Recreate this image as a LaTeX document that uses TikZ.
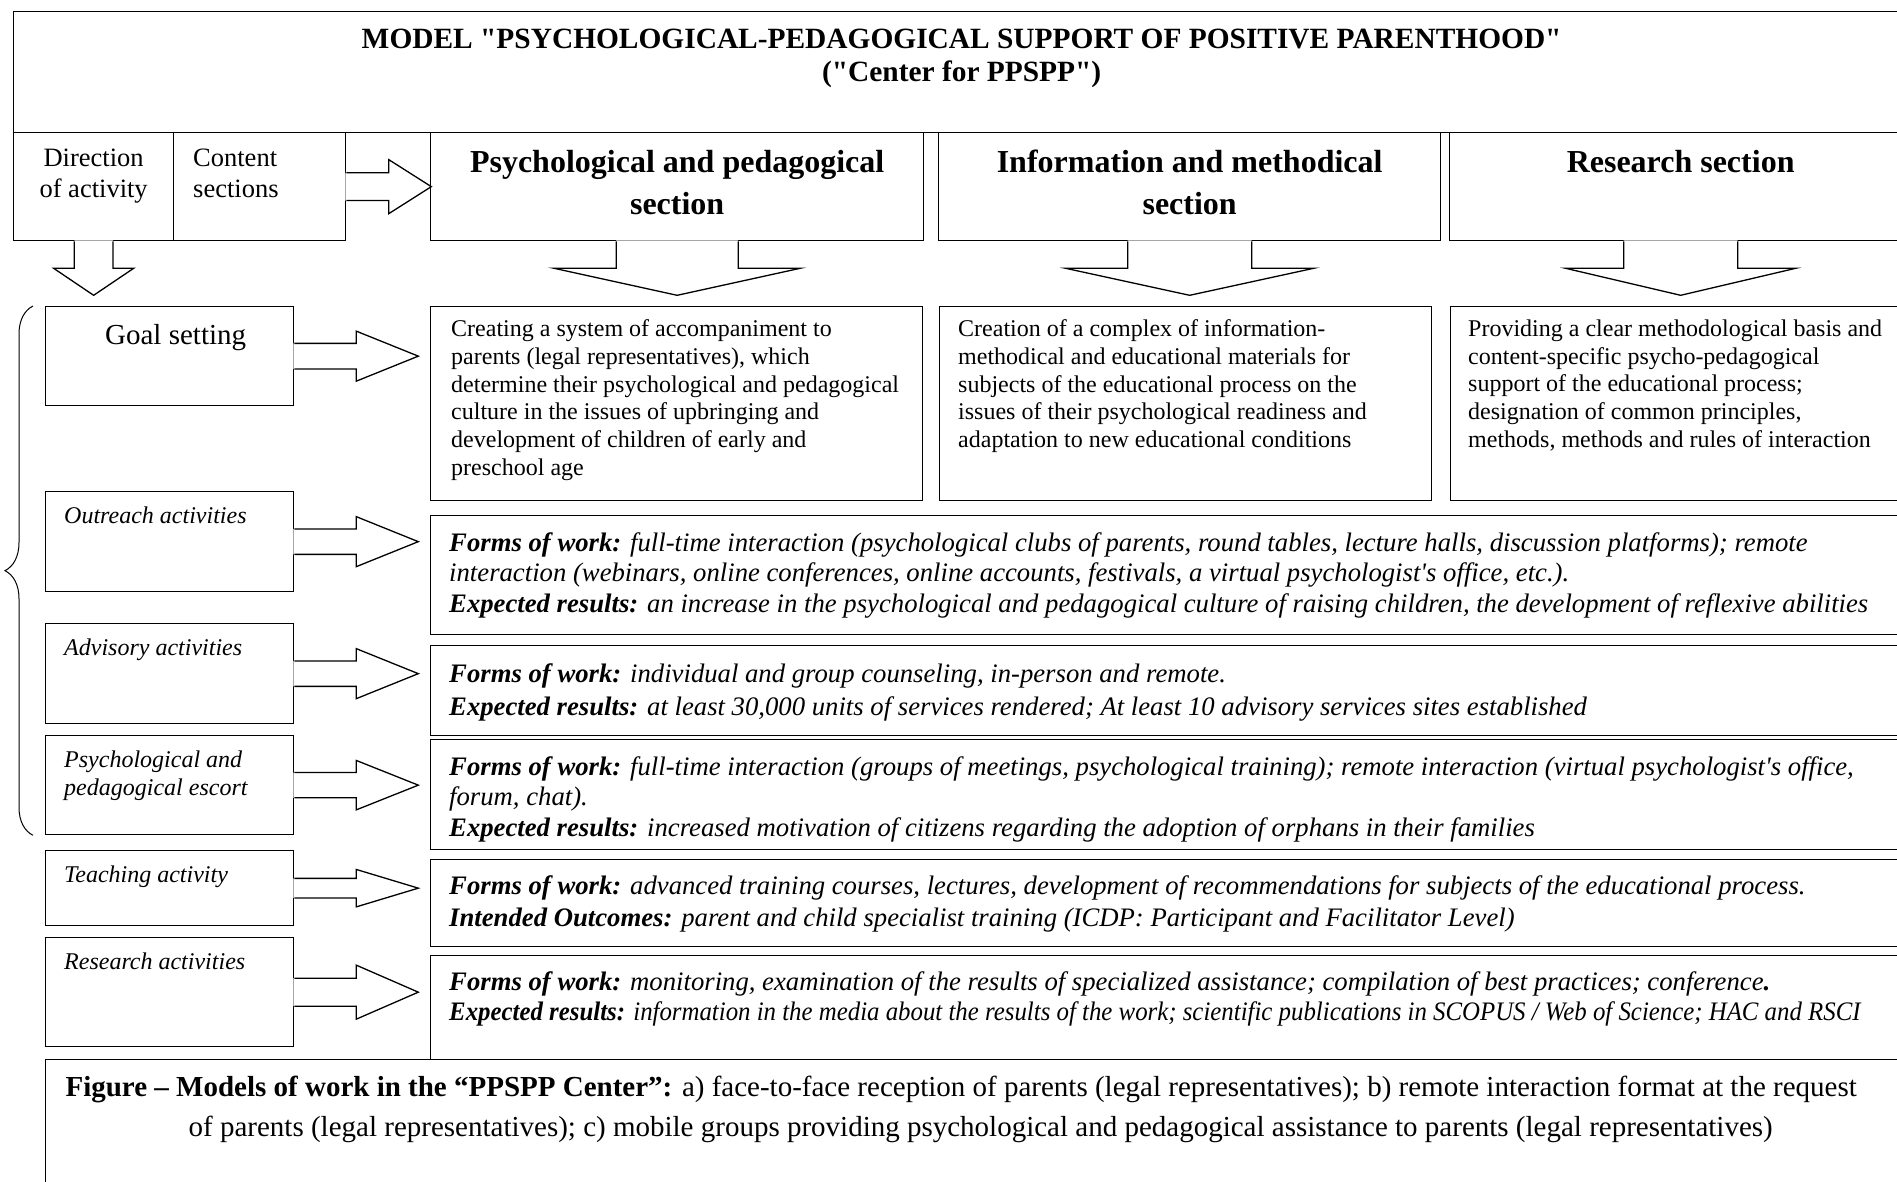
\documentclass[tikz,border=0pt]{standalone}
\usepackage{graphicx}
\usepackage{fontspec}
\setmainfont{Liberation Serif}[Ligatures=TeXOff]
\usetikzlibrary{positioning,decorations.pathreplacing}

\newcommand{\rarrow}[4]{%
  \fill[white] ([shift={(-1,-#2)}]#1) -- ++(#4+1,0) -- ++(0,#2-#3) -- ++(#4,#3) -- ++(-#4,#3) -- ++(0,#2-#3) -- ++(-#4-1,0) -- cycle;
  \draw[bline] ([shift={(0,-#2)}]#1) -- ++(#4,0) -- ++(0,#2-#3) -- ++(#4,#3) -- ++(-#4,#3) -- ++(0,#2-#3) -- ++(-#4,0);}
\newcommand{\darrow}[4]{%
  \fill[white] ([shift={(-#2,-1)}]#1) -- ++(0,#4+1) -- ++(#2-#3,0) -- ++(#3,#4) -- ++(#3,-#4) -- ++(#2-#3,0) -- ++(0,-#4-1) -- cycle;
  \draw[bline] ([shift={(-#2,0)}]#1) -- ++(0,#4) -- ++(#2-#3,0) -- ++(#3,#4) -- ++(#3,-#4) -- ++(#2-#3,0) -- ++(0,-#4);}

\tikzset{
  bline/.style={line width=1.3pt, line join=miter},
  box/.style={draw, bline, inner sep=0pt, anchor=north west},
  ttl/.style={inner sep=0pt, align=center, font=\bfseries\fontsize{29.4pt}{33pt}\selectfont},
  head/.style={inner sep=0pt, align=center, font=\bfseries\fontsize{32pt}{41.6pt}\selectfont},
  colhd/.style={inner sep=0pt, align=center, font=\fontsize{26.5pt}{30.6pt}\selectfont},
  goal/.style={inner sep=0pt, font=\fontsize{29pt}{34pt}\selectfont},
  lbl/.style={inner sep=0pt, align=left, font=\itshape\fontsize{24pt}{27.2pt}\selectfont},
  body/.style={inner sep=0pt, align=left, font=\fontsize{24pt}{27.7pt}\selectfont},
  res/.style={inner sep=0pt, align=left, font=\itshape\fontsize{26.7pt}{30.8pt}\selectfont},
  capt/.style={inner sep=0pt, align=center, font=\fontsize{29pt}{40pt}\selectfont}
}

\begin{document}
\begin{tikzpicture}[x=1pt,y=-1pt]
  \useasboundingbox (0,0) rectangle (1897,1181);
  \clip (0,0) rectangle (1897,1181);

  \node[box, minimum width=1902pt, minimum height=121pt] (T) at (13,11) {};
  \node[box, minimum width=160pt, minimum height=108pt] (D-1) at (13,132) {};
  \node[box, minimum width=172pt, minimum height=108pt] (D-2) at (173,132) {};
  \node[box, minimum width=493pt, minimum height=108pt] (S-1) at (430,132) {};
  \node[box, minimum width=502pt, minimum height=108pt] (S-2) at (938,132) {};
  \node[box, minimum width=462pt, minimum height=108pt] (S-3) at (1449,132) {};

  \node[box, minimum width=492pt, minimum height=194pt] (P-1) at (430,306) {};
  \node[box, minimum width=492pt, minimum height=194pt] (P-2) at (939,306) {};
  \node[box, minimum width=470pt, minimum height=194pt] (P-3) at (1450,306) {};

  \node[box, minimum width=248pt, minimum height=99pt] (A-1) at (45,306) {};
  \node[box, minimum width=248pt, minimum height=100pt] (A-2) at (45,491) {};
  \node[box, minimum width=248pt, minimum height=100pt] (A-3) at (45,623) {};
  \node[box, minimum width=248pt, minimum height=99pt] (A-4) at (45,735) {};
  \node[box, minimum width=248pt, minimum height=75pt] (A-5) at (45,850) {};
  \node[box, minimum width=248pt, minimum height=109pt] (A-6) at (45,937) {};

  \node[box, minimum width=1490pt, minimum height=119pt] (R-2) at (430,515) {};
  \node[box, minimum width=1490pt, minimum height=90pt] (R-3) at (430,645) {};
  \node[box, minimum width=1490pt, minimum height=110pt] (R-4) at (430,739) {};
  \node[box, minimum width=1490pt, minimum height=87pt] (R-5) at (430,859) {};
  \node[box, minimum width=1490pt, minimum height=104pt] (R-6) at (430,955) {};
  \node[box, minimum width=1875pt, minimum height=200pt] (C) at (45,1059) {};

  \node[ttl, below=18pt of T.north, xshift=-3pt] (T-t) {MODEL "PSYCHOLOGICAL-PEDAGOGICAL SUPPORT OF POSITIVE PARENTHOOD"\\("Center for PPSPP")};
  \node[colhd, below=17pt of D-1.north] (D-1t) {Direction\\of activity};
  \node[colhd, align=left, below right=17pt and 20pt of D-2.north west] (D-2t) {Content\\sections};
  \node[head, below=18pt of S-1.north] (S-1t) {Psychological and pedagogical\\section};
  \node[head, below=18pt of S-2.north] (S-2t) {Information and methodical\\section};
  \node[head, below=18pt of S-3.north] (S-3t) {Research section};

  \node[goal, below=18pt of A-1.north, xshift=6pt] (A-1t) {Goal setting};
  \node[lbl, below right=16pt and 19pt of A-2.north west] (A-2t) {Outreach activities};
  \node[lbl, below right=16pt and 19pt of A-3.north west] (A-3t) {Advisory activities};
  \node[lbl, below right=16pt and 19pt of A-4.north west] (A-4t) {Psychological and\\pedagogical escort};
  \node[lbl, below right=16pt and 19pt of A-5.north west] (A-5t) {Teaching activity};
  \node[lbl, below right=16pt and 19pt of A-6.north west] (A-6t) {Research activities};

  \node[body, below right=13.5pt and 21pt of P-1.north west] (P-1t) {Creating a system of accompaniment to\\parents (legal representatives), which\\determine their psychological and pedagogical\\culture in the issues of upbringing and\\development of children of early and\\preschool age};
  \node[body, below right=13.5pt and 19pt of P-2.north west] (P-2t) {Creation of a complex of information-\\methodical and educational materials for\\subjects of the educational process on the\\issues of their psychological readiness and\\adaptation to new educational conditions};
  \node[body, below right=13.5pt and 18pt of P-3.north west] (P-3t) {Providing a clear methodological basis and\\content-specific psycho-pedagogical\\support of the educational process;\\designation of common principles,\\methods, methods and rules of interaction};

  \node[res, below right=17pt and 19pt of R-2.north west] (R-2t) {\textbf{Forms of work:} full-time interaction (psychological clubs of parents, round tables, lecture halls, discussion platforms); remote\\interaction (webinars, online conferences, online accounts, festivals, a virtual psychologist's office, etc.).\\\textbf{Expected results:} an increase in the psychological and pedagogical culture of raising children, the development of reflexive abilities};
  \node[res, below right=18pt and 19pt of R-3.north west] (R-3t) {\textbf{Forms of work:} individual and group counseling, in-person and remote.\\[2.5pt]\textbf{Expected results:} at least 30,000 units of services rendered; At least 10 advisory services sites established};
  \node[res, below right=17pt and 19pt of R-4.north west] (R-4t) {\textbf{Forms of work:} full-time interaction (groups of meetings, psychological training); remote interaction (virtual psychologist's office,\\forum, chat).\\\textbf{Expected results:} increased motivation of citizens regarding the adoption of orphans in their families};
  \node[res, below right=16pt and 19pt of R-5.north west] (R-5t) {\textbf{Forms of work:} advanced training courses, lectures, development of recommendations for subjects of the educational process.\\[2pt]\textbf{Intended Outcomes:} parent and child specialist training (ICDP: Participant and Facilitator Level)};
  \node[res, below right=16pt and 19pt of R-6.north west] (R-6t) {\textbf{Forms of work:} monitoring, examination of the results of specialized assistance; compilation of best practices; conference\textbf{.}\\\scalebox{0.93}[1]{\textbf{Expected results:} information in the media about the results of the work; scientific publications in SCOPUS / Web of Science; HAC and RSCI}};

  \node[capt, below=17pt of C.north, xshift=-11pt] (C-t) {\textbf{Figure – Models of work in the “PPSPP Center”:} a) face-to-face reception of parents (legal representatives); b) remote interaction format at the request\hspace*{22pt}\\\hspace*{17pt}of parents (legal representatives); c) mobile groups providing psychological and pedagogical assistance to parents (legal representatives)};

  \rarrow{D-2.east}{13.9}{27}{42.5}
  \darrow{D-1.south}{19.4}{40}{27}
  \darrow{S-1.south}{61}{123}{27}
  \darrow{S-2.south}{62}{124}{27}
  \darrow{S-3.south}{57}{115}{27}
  \rarrow{A-1.east}{12.8}{25}{62}
  \rarrow{A-2.east}{12.7}{25}{62}
  \rarrow{A-3.east}{12.7}{25}{62}
  \rarrow{A-4.east}{12.6}{24.7}{62}
  \rarrow{A-5.east}{9.8}{18.7}{62}
  \rarrow{A-6.east}{14}{27}{62}

  \draw[line width=1pt, decorate, decoration={brace, amplitude=28pt}] ([xshift=-12pt]A-4.south west) -- ([xshift=-12pt]A-1.north west);
\end{tikzpicture}
\end{document}
